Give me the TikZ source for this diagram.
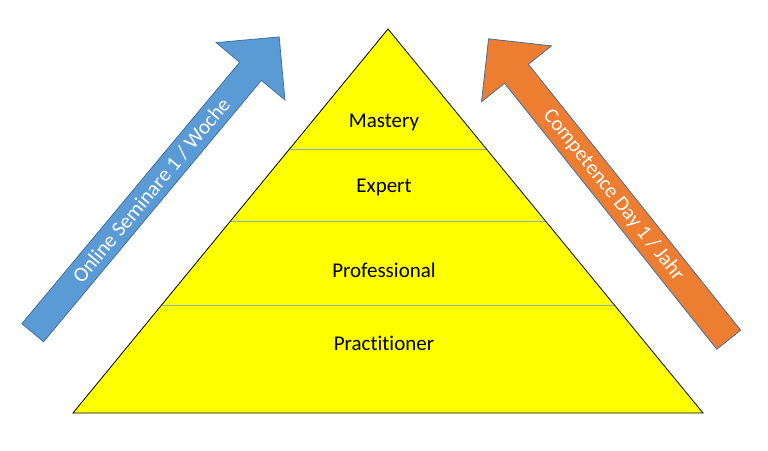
\documentclass[tikz,border=0pt]{standalone}
\usepackage{fontspec}
\setmainfont{Carlito}[Ligatures=CommonOff]
\usetikzlibrary{shapes.arrows,calc}
\definecolor{levelyellow}{HTML}{FFFF00}
\definecolor{arrowblue}{HTML}{5B9BD5}
\definecolor{arroworange}{HTML}{ED7D31}
\definecolor{arrowedge}{HTML}{41719C}
\definecolor{levelline}{RGB}{150,180,175}

\begin{document}
\begin{tikzpicture}[x=1pt,y=1pt,
    level/.style={font=\fontsize{21}{25}\selectfont, text=black},
    bigarrow/.style={single arrow, draw=arrowedge, line width=0.8pt,
        minimum height=385pt, minimum width=89.5pt,
        single arrow head extend=22pt, inner sep=2pt,
        text=white, font=\fontsize{21}{25}\selectfont}]
    \useasboundingbox (0,0) rectangle (768,450);

    % Pyramid
    \coordinate (apex) at (388,421);
    \coordinate (baseL) at (73,37);
    \coordinate (baseR) at (703,37);
    \fill [levelyellow] (baseL) -- (apex) -- (baseR) -- cycle;

    % Level separators
    \begin{scope}
        \clip (baseL) -- (apex) -- (baseR) -- cycle;
        \foreach \y in {301,229,145}
            \draw [levelline, line width=0.8pt] (0,\y) -- (768,\y);
    \end{scope}
    \draw [line width=0.8pt] (baseL) -- (apex) -- (baseR) -- cycle;

    % Levels
    \node [level] (mastery) at (384,328) {Mastery};
    \node [level] (expert) at (384,263) {Expert};
    \node [level] (professional) at (384,180) {Professional};
    \node [level] (practitioner) at (384,107) {Practitioner};

    % Arrows
    \node [bigarrow, fill=arrowblue, rotate=50.2, anchor=tail] (online) at (32.5,117) {Online Seminare 1 / Woche};
    \node [bigarrow, fill=arroworange, shape border rotate=180, rotate=-51.4, anchor=tail] (competence) at (729,110) {Competence Day 1 / Jahr};
\end{tikzpicture}
\end{document}
